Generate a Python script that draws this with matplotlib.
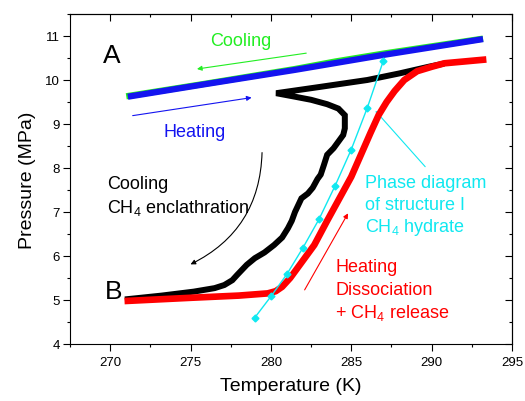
import numpy as np
import matplotlib
matplotlib.use('Agg')
from matplotlib import pyplot as plt
from matplotlib.ticker import MultipleLocator

plt.rcParams['font.family'] = ['Liberation Sans', 'DejaVu Sans']
plt.rcParams['mathtext.fontset'] = 'custom'
plt.rcParams['mathtext.rm'] = 'Liberation Sans'
plt.rcParams['mathtext.default'] = 'regular'

# heating at high pressure (blue) and cooling (green), path A
heat_A_T = [271.1, 276.0, 281.5, 287.0, 293.2]
heat_A_P = [9.62, 9.91, 10.23, 10.57, 10.93]
cool_A_T = [293.2, 287.0, 284.0, 281.5, 276.0, 271.0]
cool_A_P = [10.94, 10.60, 10.42, 10.25, 9.92, 9.63]

# cooling with CH4 enclathration (black)
cool_B_T = [271.1, 273.2, 275.2, 276.5, 277.1, 277.6, 277.9, 278.5, 279.0, 279.6,
            280.2, 280.7, 281.06, 281.3, 281.5, 281.9, 282.3, 282.6, 282.9, 283.1,
            283.3, 283.5, 283.9, 284.2, 284.5, 284.6, 284.6, 284.2, 283.5, 282.5,
            281.5, 280.33, 283.0, 286.0, 288.0, 289.8, 290.6]
cool_B_P = [5.02, 5.10, 5.19, 5.27, 5.34, 5.45, 5.57, 5.80, 5.95, 6.08,
            6.25, 6.42, 6.63, 6.80, 7.00, 7.31, 7.42, 7.55, 7.75, 7.85,
            8.07, 8.30, 8.45, 8.60, 8.75, 8.90, 9.20, 9.35, 9.45, 9.55,
            9.62, 9.70, 9.84, 10.00, 10.15, 10.30, 10.36]

# heating, dissociation + CH4 release (red)
heat_B_T = [271.1, 275.0, 278.0, 279.8, 280.3, 280.7, 281.2, 281.8, 282.7, 283.5,
            284.4, 285.0, 285.6, 286.2, 286.7, 287.2, 287.7, 288.3, 289.1, 290.0,
            290.8, 292.0, 293.2]
heat_B_P = [4.98, 5.05, 5.10, 5.15, 5.20, 5.30, 5.50, 5.80, 6.25, 6.80,
            7.40, 7.80, 8.30, 8.80, 9.20, 9.50, 9.75, 10.00, 10.20, 10.30,
            10.38, 10.42, 10.46]

# phase diagram of structure I CH4 hydrate (cyan)
phase_T = [279, 280, 281, 282, 283, 284, 285, 286, 287]
phase_P = [4.60, 5.08, 5.59, 6.19, 6.84, 7.60, 8.42, 9.37, 10.44]

x_ticks = [270, 275, 280, 285, 290, 295]
y_ticks = [4, 5, 6, 7, 8, 9, 10, 11]

green = '#22ee22'
blue = '#1414f0'
red = '#ff0000'
cyan = '#10e8f0'

fig = plt.figure(figsize=(5.25, 4.02), dpi=100)
ax = fig.add_axes([0.1333, 0.1418, 0.9752 - 0.1333, 0.9627 - 0.1418])

ax.plot(cool_A_T, cool_A_P, color=green, lw=4.5, solid_capstyle='butt', zorder=2)
ax.plot(heat_A_T, heat_A_P, color=blue, lw=4.5, solid_capstyle='butt', zorder=3)
ax.plot(cool_B_T, cool_B_P, color='black', lw=4.3, solid_joinstyle='miter', zorder=3)
ax.plot(heat_B_T, heat_B_P, color=red, lw=4.8, zorder=4)
ax.plot(phase_T, phase_P, color=cyan, lw=1.0, marker='D', ms=3.5, zorder=5)

ax.set_xlim(267.5, 295)
ax.set_ylim(4, 11.5)
ax.set_xticks(x_ticks)
ax.set_yticks(y_ticks)
ax.xaxis.set_minor_locator(MultipleLocator(2.5))
ax.yaxis.set_minor_locator(MultipleLocator(0.5))
ax.tick_params(which='major', direction='out', length=5, width=0.8, labelsize=9.5, pad=2.5)
ax.tick_params(which='minor', direction='out', length=2.5, width=0.8)
ax.tick_params(axis='x', which='major', pad=4)

# inward ticks on top and right
secx = ax.secondary_xaxis('top')
secx.set_xticks(x_ticks)
secx.xaxis.set_minor_locator(MultipleLocator(2.5))
secx.tick_params(which='both', direction='in', labeltop=False, width=0.8)
secx.tick_params(which='major', length=5)
secx.tick_params(which='minor', length=2.5)
secy = ax.secondary_yaxis('right')
secy.set_yticks(y_ticks)
secy.yaxis.set_minor_locator(MultipleLocator(0.5))
secy.tick_params(which='both', direction='in', labelright=False, width=0.8)
secy.tick_params(which='major', length=5)
secy.tick_params(which='minor', length=2.5)

for s in ax.spines.values():
    s.set_linewidth(0.8)

ax.set_xlabel('Temperature (K)', fontsize=14, labelpad=6)
ax.set_ylabel('Pressure (MPa)', fontsize=14, labelpad=6)

fs = 13
ax.text(269.55, 10.57, 'A', fontsize=19, va='center', ha='left')
ax.text(269.65, 5.21, 'B', fontsize=19, va='center', ha='left')
ax.text(276.2, 10.9, 'Cooling', color=green, fontsize=fs, va='center')
ax.text(273.3, 8.83, 'Heating', color=blue, fontsize=fs, va='center')
ax.text(269.8, 7.65, 'Cooling', color='black', fontsize=fs, va='center')
ax.text(269.8, 7.12, 'CH$_4$ enclathration', color='black', fontsize=fs, va='center')
ax.text(285.85, 7.68, 'Phase diagram', color=cyan, fontsize=fs, va='center')
ax.text(285.85, 7.17, 'of structure I', color=cyan, fontsize=fs, va='center')
ax.text(285.85, 6.66, 'CH$_4$ hydrate', color=cyan, fontsize=fs, va='center')
ax.text(284.0, 5.76, 'Heating', color=red, fontsize=fs, va='center')
ax.text(284.0, 5.23, 'Dissociation', color=red, fontsize=fs, va='center')
ax.text(284.0, 4.72, '+ CH$_4$ release', color=red, fontsize=fs, va='center')

def arrow(x0, y0, x1, y1, color, style='arc3'):
    ax.annotate('', xy=(x1, y1), xytext=(x0, y0),
                arrowprops=dict(arrowstyle='-|>', color=color, lw=0.8,
                                mutation_scale=7, shrinkA=0, shrinkB=0,
                                connectionstyle=style))

arrow(282.2, 10.61, 275.4, 10.25, green)
arrow(271.4, 9.19, 278.8, 9.60, blue)
arrow(289.6, 8.03, 286.5, 9.30, cyan)
arrow(282.1, 5.23, 284.8, 6.97, red)
arrow(279.45, 8.35, 275.0, 5.81, 'black', 'arc3,rad=-0.3')

fig.savefig('out.png', dpi=100)
